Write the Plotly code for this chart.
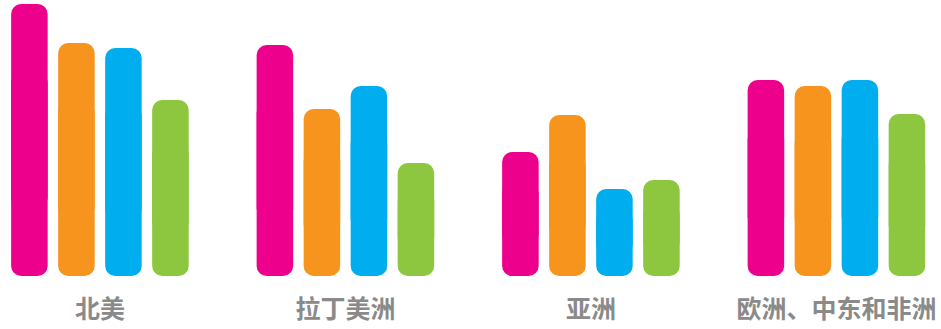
import plotly.graph_objects as go

categories = ["北美", "拉丁美洲", "亚洲", "欧洲、中东和非洲"]
series_names = ["系列1", "系列2", "系列3", "系列4"]
series_values = [
    [272, 231, 124, 196],
    [233, 167, 161, 190],
    [228, 190, 87, 196],
    [176, 113, 96, 162],
]
colors = ["#EC008C", "#F7941E", "#00AEEF", "#8DC63F"]

x_pos = list(range(len(categories)))

fig = go.Figure()
for i, (name, vals) in enumerate(zip(series_names, series_values)):
    lo = [v * 0.25 for v in vals]
    hi = [v * 0.75 for v in vals]
    mk = dict(color=colors[i], cornerradius=10, line=dict(width=0))
    # upper piece (rounded top), spans 0.25v..v
    fig.add_trace(go.Bar(
        x=x_pos, y=[v - b for v, b in zip(vals, lo)], base=lo,
        name=name, offsetgroup=str(i), marker=mk,
        showlegend=False, hoverinfo="skip",
    ))
    # lower piece (rounded bottom), spans 0.75v..0
    fig.add_trace(go.Bar(
        x=x_pos, y=[-b for b in hi], base=hi,
        name=name, offsetgroup=str(i), marker=mk,
        showlegend=False, hoverinfo="skip",
    ))

fig.update_layout(
    width=941, height=329,
    margin=dict(l=0, r=0, t=0, b=53),
    paper_bgcolor="white", plot_bgcolor="white",
    barmode="group", bargap=0.234, bargroupgap=0.223,
    font=dict(family="Noto Sans CJK SC", color="#8c8c8c"),
    xaxis=dict(
        range=[-0.407, 3.426], tickvals=x_pos, ticktext=categories,
        showgrid=False, zeroline=False, showline=False, ticks="",
        ticklabelstandoff=16,
        tickfont=dict(family="Noto Sans CJK SC", size=25, color="#8a8a8a", weight="bold"),
    ),
    yaxis=dict(range=[0, 276], visible=False, showgrid=False, zeroline=False),
)

fig.write_html("out.html", config={"displayModeBar": False})
